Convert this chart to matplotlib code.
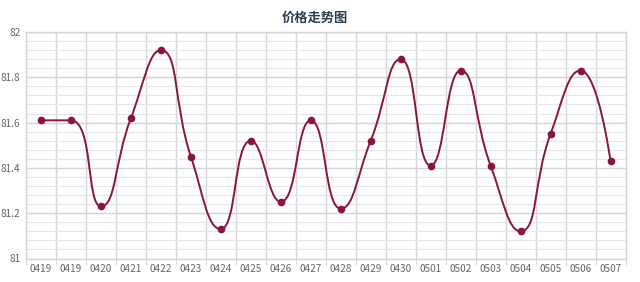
import numpy as np
import matplotlib
matplotlib.use("Agg")
import matplotlib.pyplot as plt
from matplotlib.path import Path
from matplotlib.patches import PathPatch
from matplotlib.ticker import MultipleLocator

plt.rcParams['font.family'] = ['Noto Sans CJK SC', 'DejaVu Sans']

title = "价格走势图"
categories = ["0419", "0419", "0420", "0421", "0422", "0423", "0424", "0425", "0426", "0427",
              "0428", "0429", "0430", "0501", "0502", "0503", "0504", "0505", "0506", "0507"]
values = [81.61, 81.61, 81.23, 81.62, 81.92, 81.45, 81.13, 81.52, 81.25, 81.61,
          81.22, 81.52, 81.88, 81.41, 81.83, 81.41, 81.12, 81.55, 81.83, 81.43]
y_min, y_max = 81, 82

color = "#8a1538"

fig = plt.figure(figsize=(6.4, 2.82), dpi=100)
ax = fig.add_axes([26/640, 1-258.5/282, (625.5-26)/640, (258.5-32)/282])
n = len(categories)
ax.set_xlim(-0.5, n-0.5)
ax.set_ylim(y_min, y_max)

# grid
ax.set_xticks(np.arange(n))
ax.set_xticklabels(categories)
ax.set_xticks(np.arange(n+1)-0.5, minor=True)
ax.yaxis.set_major_locator(MultipleLocator(0.2))
ax.yaxis.set_minor_locator(MultipleLocator(0.04))
ax.yaxis.set_major_formatter(matplotlib.ticker.FuncFormatter(lambda v, p: ("%g" % round(v, 2))))
ax.grid(which='minor', axis='x', color='#d6d6d6', lw=1.0)
ax.grid(which='major', axis='y', color='#d4d4d4', lw=1.0)
ax.grid(which='minor', axis='y', color='#e6e6e6', lw=0.8)
ax.set_axisbelow(True)
ax.tick_params(axis='x', which='major', length=0, labelsize=7.2, colors='#666666', pad=4)
ax.tick_params(axis='x', which='minor', length=4, color='#d0d0d0')
ax.tick_params(axis='y', which='both', length=0, labelsize=7.2, colors='#666666', pad=4)
for s in ['top', 'right', 'left', 'bottom']:
    ax.spines[s].set_color('#d4d4d4')
    ax.spines[s].set_linewidth(1.0)

# echarts-like smoothing computed in pixel space
fig.canvas.draw()
pts = ax.transData.transform(np.column_stack([np.arange(n), values]))
smooth = 0.5
verts = [tuple(pts[0])]
codes = [Path.MOVETO]
cpx0, cpy0 = pts[0]
prevX, prevY = pts[0]
for k in range(1, n):
    x, y = pts[k]
    if k == n-1:
        cpx1, cpy1 = x, y
        nextCpx0, nextCpy0 = x, y
    else:
        nextX, nextY = pts[k+1]
        vx = nextX - prevX; vy = nextY - prevY
        dx0 = x - prevX; dx1 = nextX - x; dy0 = y - prevY; dy1 = nextY - y
        lp = np.hypot(dx0, dy0); ln = np.hypot(dx1, dy1)
        r = ln / (ln + lp)
        nextCpx0 = x + vx*smooth*r; nextCpy0 = y + vy*smooth*r
        nextCpx0 = min(nextCpx0, max(nextX, x)); nextCpy0 = min(nextCpy0, max(nextY, y))
        nextCpx0 = max(nextCpx0, min(nextX, x)); nextCpy0 = max(nextCpy0, min(nextY, y))
        vx = nextCpx0 - x; vy = nextCpy0 - y
        cpx1 = x - vx*lp/ln; cpy1 = y - vy*lp/ln
        cpx1 = min(cpx1, max(prevX, x)); cpy1 = min(cpy1, max(prevY, y))
        cpx1 = max(cpx1, min(prevX, x)); cpy1 = max(cpy1, min(prevY, y))
        vx = x - cpx1; vy = y - cpy1
        nextCpx0 = x + vx*ln/lp; nextCpy0 = y + vy*ln/lp
    verts += [(cpx0, cpy0), (cpx1, cpy1), (x, y)]
    codes += [Path.CURVE4]*3
    cpx0, cpy0 = nextCpx0, nextCpy0
    prevX, prevY = x, y

inv = ax.transData.inverted()
data_verts = inv.transform(np.array(verts))
patch = PathPatch(Path(data_verts, codes), facecolor='none', edgecolor=color, lw=1.4, zorder=3)
ax.add_patch(patch)
ax.plot(np.arange(n), values, 'o', color=color, ms=4.5, zorder=4)

fig.text(315/640, 1-18/282, title, ha='center', va='center', fontsize=9.5,
         fontweight='bold', color='#2d3e50')

fig.savefig("out.png", dpi=100)
